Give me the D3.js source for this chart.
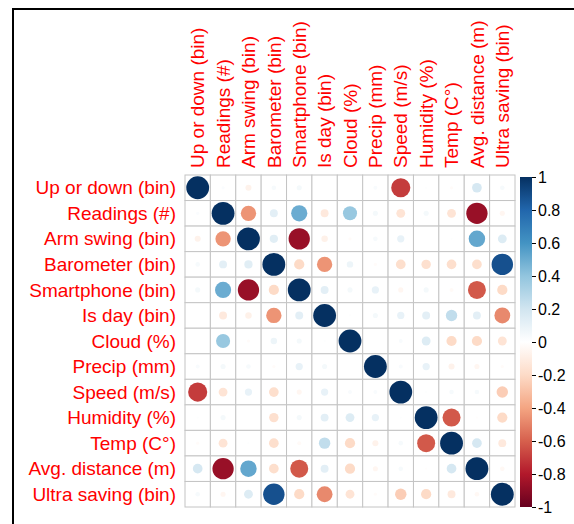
<!DOCTYPE html>
<meta charset="utf-8">
<style>
body{ margin:0; background:white; }
text{ font-family: "Liberation Sans", Arial, sans-serif; }
</style>
<body>
<script src="https://cdn.jsdelivr.net/npm/d3@7"></script>
<script>

var vars = ["Up or down (bin)", "Readings (#)", "Arm swing (bin)", "Barometer (bin)",
  "Smartphone (bin)", "Is day (bin)", "Cloud (%)", "Precip (mm)", "Speed (m/s)",
  "Humidity (%)", "Temp (C°)", "Avg. distance (m)", "Ultra saving (bin)"];

// correlation matrix, row by row
var corr = [
  [1, 0.02, -0.07, 0.04, 0.05, 0, 0, 0.03, -0.7, 0.01, -0.02, 0.18, 0.04],
  [0.02, 1, -0.45, 0.12, 0.5, -0.12, 0.38, 0.05, -0.15, 0.05, -0.15, -0.87, -0.05],
  [-0.07, -0.45, 1, 0.13, -0.87, -0.08, -0.02, 0.04, 0.1, 0, 0.01, 0.52, 0.15],
  [0.04, 0.12, 0.13, 1, -0.2, -0.45, 0.08, -0.02, -0.18, -0.17, -0.18, -0.18, 0.88],
  [0.05, 0.5, -0.87, -0.2, 1, 0.12, 0.05, 0.1, -0.05, 0.05, -0.03, -0.62, -0.2],
  [0, -0.12, -0.08, -0.45, 0.12, 1, 0.01, 0.05, 0.1, 0.12, 0.25, 0.12, -0.48],
  [0, 0.38, -0.02, 0.08, 0.05, 0.01, 1, 0, 0.03, 0.15, -0.2, -0.2, -0.15],
  [0.03, 0.05, 0.04, -0.02, 0.1, 0.05, 0, 1, 0.03, 0.1, -0.07, -0.05, -0.02],
  [-0.7, -0.15, 0.1, -0.18, -0.05, 0.1, 0.03, 0.03, 1, 0.01, 0.04, 0.04, -0.25],
  [0.01, 0.05, 0, -0.17, 0.05, 0.12, 0.15, 0.1, 0.01, 1, -0.62, -0.01, -0.2],
  [-0.02, -0.15, 0.01, -0.18, -0.03, 0.25, -0.2, -0.07, 0.04, -0.62, 1, 0.18, -0.12],
  [0.18, -0.87, 0.52, -0.18, -0.62, 0.12, -0.2, -0.05, 0.04, -0.01, 0.18, 1, -0.04],
  [0.04, -0.05, 0.15, 0.88, -0.2, -0.48, -0.15, -0.02, -0.25, -0.2, -0.12, -0.04, 1]
];

var legendTicks = [1, 0.8, 0.6, 0.4, 0.2, 0, -0.2, -0.4, -0.6, -0.8, -1];
var legendLabels = ["1", "0.8", "0.6", "0.4", "0.2", "0", "-0.2", "-0.4", "-0.6", "-0.8", "-1"];

var palette = ["#67001F", "#B2182B", "#D6604D", "#F4A582", "#FDDBC7", "#FFFFFF",
  "#D1E5F0", "#92C5DE", "#4393C3", "#2166AC", "#053061"];

var width = 574, height = 524;

var svg = d3.select("body").append("svg")
    .attr("width", width)
    .attr("height", height);

// frame lines (top / left)
svg.append("path")
    .attr("d", "M13,524V9H574")
    .attr("fill", "none")
    .attr("stroke", "black")
    .attr("stroke-width", 2);

var color = d3.scaleLinear()
    .domain(d3.range(11).map(function(i) { return -1 + i * 0.2; }))
    .range(palette);

var x = d3.scaleBand().domain(d3.range(vars.length)).range([185, 515]);
var y = d3.scaleBand().domain(d3.range(vars.length)).range([175, 507]);

var cells = [];
corr.forEach(function(row, i) {
  row.forEach(function(v, j) { cells.push({i: i, j: j, v: v}); });
});

// grid
svg.append("g").selectAll("rect")
    .data(cells)
  .enter().append("rect")
    .attr("x", function(d) { return x(d.j); })
    .attr("y", function(d) { return y(d.i); })
    .attr("width", x.bandwidth())
    .attr("height", y.bandwidth())
    .attr("fill", "white")
    .attr("stroke", "#C4C4C4")
    .attr("stroke-width", 1);

var cell = Math.min(x.bandwidth(), y.bandwidth());

svg.append("g").selectAll("circle")
    .data(cells)
  .enter().append("circle")
    .attr("cx", function(d) { return x(d.j) + x.bandwidth() / 2; })
    .attr("cy", function(d) { return y(d.i) + y.bandwidth() / 2; })
    .attr("r", function(d) { return 0.45 * Math.sqrt(Math.abs(d.v)) * cell; })
    .attr("fill", function(d) { return color(d.v); });

// row labels
svg.append("g").selectAll("text")
    .data(vars)
  .enter().append("text")
    .attr("x", 176)
    .attr("y", function(d, i) { return y(i) + y.bandwidth() / 2; })
    .attr("dy", "0.35em")
    .attr("text-anchor", "end")
    .style("font-size", "19px")
    .attr("fill", "#FF0000")
    .text(function(d) { return d; });

// column labels
svg.append("g").selectAll("text")
    .data(vars)
  .enter().append("text")
    .attr("transform", function(d, i) {
      return "translate(" + (x(i) + x.bandwidth() / 2) + ",168) rotate(-90)";
    })
    .attr("dy", "0.35em")
    .attr("text-anchor", "start")
    .style("font-size", "19px")
    .attr("fill", "#FF0000")
    .text(function(d) { return d; });

// colour legend
var ly = d3.scaleLinear().domain([-1, 1]).range([507, 177]);

var grad = svg.append("defs").append("linearGradient")
    .attr("id", "cbar")
    .attr("x1", 0).attr("y1", 1).attr("x2", 0).attr("y2", 0);
grad.selectAll("stop")
    .data(palette)
  .enter().append("stop")
    .attr("offset", function(d, i) { return i / (palette.length - 1); })
    .attr("stop-color", function(d) { return d; });

svg.append("rect")
    .attr("x", 520)
    .attr("y", ly(1))
    .attr("width", 12)
    .attr("height", ly(-1) - ly(1))
    .attr("fill", "url(#cbar)");

var axis = d3.axisRight(ly)
    .tickValues(legendTicks)
    .tickSize(4)
    .tickPadding(2)
    .tickFormat(function(d, i) { return legendLabels[i]; });

var ag = svg.append("g")
    .attr("transform", "translate(532,0)")
    .call(axis);
ag.select(".domain").remove();
ag.selectAll("text")
    .style("font-size", "16px")
    .style("font-family", "'Liberation Sans', Arial, sans-serif")
    .attr("fill", "black");
ag.selectAll("line").attr("stroke", "black");

</script>
</body>
